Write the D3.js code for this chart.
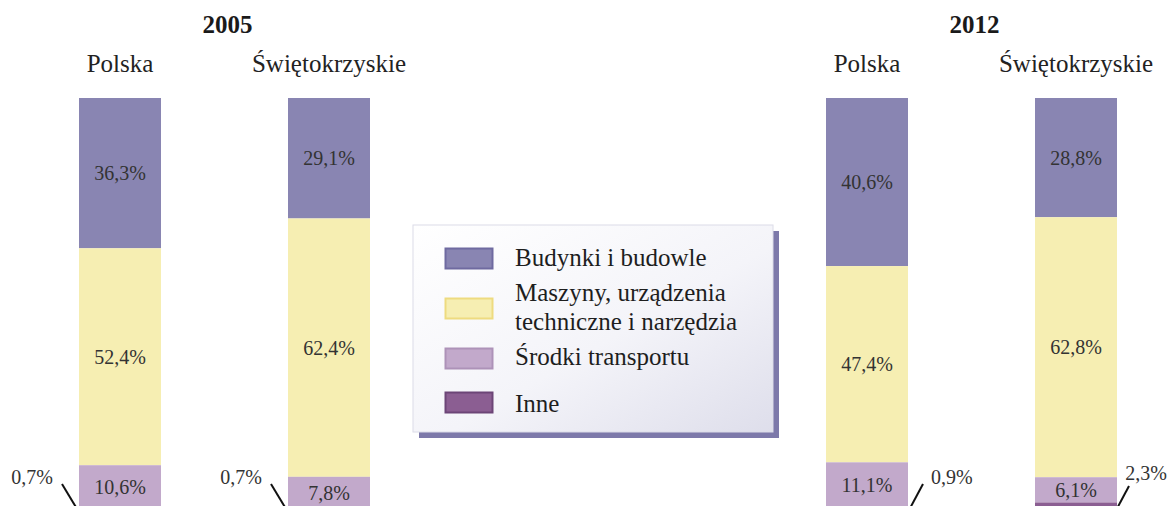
<!DOCTYPE html>
<html>
<head>
<meta charset="utf-8">
<script src="https://cdn.jsdelivr.net/npm/d3@7"></script>
<style>
  html, body { margin: 0; padding: 0; background: #ffffff; }
  svg { display: block; }
  text { font-family: "Liberation Serif", "Times New Roman", Times, serif; fill: #2b2b2b; }
</style>
</head>
<body>
<svg id="chart" width="1168" height="506"></svg>
<script>
// ---- data ----
const years = ["2005", "2012"];
const regions = ["Polska", "Świętokrzyskie"];
const categories = ["Budynki i budowle", "Maszyny, urządzenia techniczne i narzędzia", "Środki transportu", "Inne"];
const legendLines = [["Budynki i budowle"], ["Maszyny, urządzenia", "techniczne i narzędzia"], ["Środki transportu"], ["Inne"]];
// order of bars: 2005 Polska, 2005 Świętokrzyskie, 2012 Polska, 2012 Świętokrzyskie
const budynki   = [36.3, 29.1, 40.6, 28.8];
const maszyny   = [52.4, 62.4, 47.4, 62.8];
const transport = [10.6, 7.8, 11.1, 6.1];
const inne      = [0.7, 0.7, 0.9, 2.3];
const colors = ["#8985b2", "#f6eeb2", "#c2a9cb", "#8b5e92"];
const strokeColors = ["#6f6aa0", "#eedb80", "#ad92b8", "#6c4577"];

const W = 1168, H = 506;
const FONT = "'Liberation Serif', 'Times New Roman', Times, serif";
const svg = d3.select("#chart");
const fmt = v => d3.format(".1f")(v).replace(".", ",") + "%";

// ---- scales ----
const x0 = d3.scaleOrdinal().domain(years).range([79, 826]);
const x1 = d3.scaleBand().domain(regions).range([0, 291]).paddingInner(0.6077).paddingOuter(0);
const y = d3.scaleLinear().domain([0, 100]).range([98, 512]);
const color = d3.scaleOrdinal().domain(categories).range(colors);
const strokeC = d3.scaleOrdinal().domain(categories).range(strokeColors);

const bars = [];
years.forEach((yr, yi) => regions.forEach((rg, ri) => {
  const i = yi * 2 + ri;
  const vals = [budynki[i], maszyny[i], transport[i], inne[i]];
  let acc = 0;
  const segs = vals.map((v, k) => { const s = { cat: categories[k], k, v, y0: acc, y1: acc + v }; acc += v; return s; });
  bars.push({ year: yr, region: rg, yi, ri, segs, x: x0(yr) + x1(rg) });
}));

// ---- year titles ----
years.forEach(yr => {
  svg.append("text")
    .attr("x", x0(yr) + (x1(regions[0]) + x1(regions[1]) + x1.bandwidth()) / 2 + 3)
    .attr("y", 33)
    .attr("text-anchor", "middle")
    .attr("font-family", FONT)
    .style("font-size", "25px").style("font-weight", "bold").style("fill", "#1a1a1a")
    .text(yr);
});

// ---- bars ----
const g = svg.selectAll("g.bar").data(bars).join("g").attr("class", "bar")
  .attr("transform", d => `translate(${d.x},0)`);

g.append("text")
  .attr("x", x1.bandwidth() / 2)
  .attr("y", 72)
  .attr("text-anchor", "middle")
  .attr("font-family", FONT)
  .style("font-size", "25px").style("fill", "#222")
  .text(d => d.region);

g.selectAll("rect").data(d => d.segs).join("rect")
  .attr("x", 0)
  .attr("width", x1.bandwidth())
  .attr("y", s => y(s.y0))
  .attr("height", s => y(s.y1) - y(s.y0))
  .attr("fill", s => color(s.cat));

g.selectAll("text.val").data(d => d.segs.filter(s => s.k < 3)).join("text")
  .attr("class", "val")
  .attr("x", x1.bandwidth() / 2)
  .attr("y", s => (y(s.y0) + y(s.y1)) / 2 + 7)
  .attr("text-anchor", "middle")
  .attr("font-family", FONT)
  .style("font-size", "20px").style("fill", "#333")
  .text(s => fmt(s.v));

// ---- outside labels for "Inne" ----
bars.forEach(b => {
  const s = b.segs[3];
  const ym = (y(s.y0) + y(s.y1)) / 2;
  const bw = x1.bandwidth();
  if (b.yi === 0) {
    const xb = b.x - 1;
    svg.append("line").attr("x1", xb).attr("y1", ym).attr("x2", xb - 16).attr("y2", 484)
      .attr("stroke", "#111").attr("stroke-width", 2);
    svg.append("text").attr("x", b.x - 26).attr("y", 484).attr("text-anchor", "end")
      .attr("font-family", FONT)
      .style("font-size", "20px").style("fill", "#333").text(fmt(s.v));
  } else {
    const xb = b.x + bw + 1;
    const labelX = xb + 22;
    if (labelX + 42 <= W) {
      svg.append("line").attr("x1", xb).attr("y1", ym).attr("x2", xb + 14).attr("y2", 484)
        .attr("stroke", "#111").attr("stroke-width", 2);
      svg.append("text").attr("x", labelX).attr("y", 484)
        .attr("font-family", FONT)
        .style("font-size", "20px").style("fill", "#333").text(fmt(s.v));
    } else {
      svg.append("line").attr("x1", xb - 3).attr("y1", ym + 5).attr("x2", xb + 11).attr("y2", 486)
        .attr("stroke", "#111").attr("stroke-width", 2);
      svg.append("text").attr("x", W - 1).attr("y", 480).attr("text-anchor", "end")
        .attr("font-family", FONT)
        .style("font-size", "20px").style("fill", "#333").text(fmt(s.v));
    }
  }
});

// ---- legend ----
const defs = svg.append("defs");
const grad = defs.append("linearGradient").attr("id", "lg").attr("x1", "0").attr("y1", "0").attr("x2", "1").attr("y2", "1");
grad.append("stop").attr("offset", "0%").attr("stop-color", "#ffffff");
grad.append("stop").attr("offset", "55%").attr("stop-color", "#f4f4f9");
grad.append("stop").attr("offset", "100%").attr("stop-color", "#dedeeb");

const lg = svg.append("g").attr("transform", "translate(413,225)");
lg.append("rect").attr("x", 6).attr("y", 6).attr("width", 360).attr("height", 207).attr("fill", "#7d79aa");
lg.append("rect").attr("x", 0).attr("y", 0).attr("width", 360).attr("height", 207)
  .attr("fill", "url(#lg)").attr("stroke", "#dcdce8").attr("stroke-width", 1);

const swY = [23, 73, 123, 167];
const txtY = [[41], [76, 105], [140], [187]];
categories.forEach((c, i) => {
  lg.append("rect").attr("x", 32.5).attr("y", swY[i] + 0.5).attr("width", 47).attr("height", 20)
    .attr("fill", color(c)).attr("stroke", strokeC(c)).attr("stroke-width", 2);
  legendLines[i].forEach((ln, j) => {
    lg.append("text").attr("x", 102).attr("y", txtY[i][j])
      .attr("font-family", FONT)
      .style("font-size", "25px").style("fill", "#1e1e1e").text(ln);
  });
});
</script>
</body>
</html>
